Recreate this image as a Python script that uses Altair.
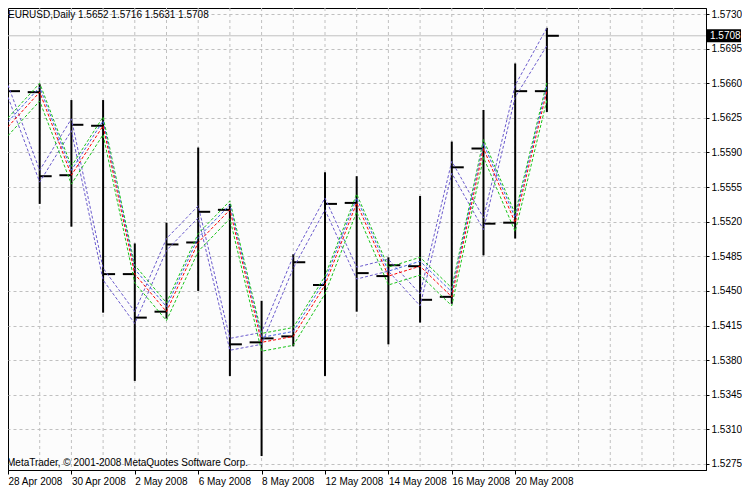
import altair as alt
import pandas as pd

# ---- data ----
dates = ["28 Apr 2008", "29 Apr 2008", "30 Apr 2008", "1 May 2008", "2 May 2008",
         "5 May 2008", "6 May 2008", "7 May 2008", "8 May 2008", "9 May 2008",
         "12 May 2008", "13 May 2008", "14 May 2008", "15 May 2008", "16 May 2008",
         "19 May 2008", "20 May 2008", "21 May 2008"]
opens = [1.5616, 1.5651, 1.5567, 1.5617, 1.5467, 1.5429, 1.5499, 1.5532, 1.5398,
         1.5404, 1.5456, 1.5539, 1.5465, 1.5475, 1.5444, 1.5594, 1.5519, 1.5652]
highs = [1.5693, 1.5659, 1.5643, 1.5643, 1.5498, 1.5519, 1.5595, 1.5538, 1.5440,
         1.5487, 1.5570, 1.5566, 1.5484, 1.5546, 1.5601, 1.5633, 1.5680, 1.5716]
lows = [1.5594, 1.5538, 1.5515, 1.5428, 1.5359, 1.5422, 1.5450, 1.5364, 1.5283,
        1.5394, 1.5364, 1.5429, 1.5396, 1.5418, 1.5437, 1.5486, 1.5503, 1.5631]
closes = [1.5652, 1.5566, 1.5618, 1.5467, 1.5423, 1.5497, 1.5530, 1.5396, 1.5402,
          1.5479, 1.5538, 1.5468, 1.5476, 1.5441, 1.5575, 1.5518, 1.5652, 1.5708]

purple_up = [1.5658, 1.5572, 1.5624, 1.5473, 1.5429, 1.5503, 1.5536, 1.5402, 1.5408,
             1.5485, 1.5544, 1.5474, 1.5482, 1.5447, 1.5581, 1.5524, 1.5658, 1.5716]
purple_dn = [1.5646, 1.5560, 1.5612, 1.5461, 1.5417, 1.5491, 1.5524, 1.5390, 1.5396,
             1.5473, 1.5532, 1.5462, 1.5470, 1.5435, 1.5569, 1.5512, 1.5646, 1.5698]
green_up = [1.5625, 1.5660, 1.5576, 1.5626, 1.5476, 1.5438, 1.5508, 1.5541, 1.5407,
            1.5413, 1.5465, 1.5548, 1.5474, 1.5484, 1.5453, 1.5603, 1.5528, 1.5661]
blue_mid = [1.5621, 1.5656, 1.5572, 1.5622, 1.5472, 1.5434, 1.5504, 1.5537, 1.5403,
            1.5409, 1.5461, 1.5544, 1.5470, 1.5480, 1.5449, 1.5599, 1.5524, 1.5657]
red_mid = [1.5616, 1.5651, 1.5567, 1.5617, 1.5467, 1.5429, 1.5499, 1.5532, 1.5398,
           1.5404, 1.5456, 1.5539, 1.5465, 1.5475, 1.5444, 1.5594, 1.5519, 1.5652]
green_dn = [1.5607, 1.5642, 1.5558, 1.5608, 1.5458, 1.5420, 1.5490, 1.5523, 1.5389,
            1.5395, 1.5447, 1.5530, 1.5456, 1.5466, 1.5435, 1.5585, 1.5510, 1.5643]

y_ticks = [1.5275, 1.5310, 1.5345, 1.5380, 1.5415, 1.5450, 1.5485, 1.5520,
           1.5555, 1.5590, 1.5625, 1.5660, 1.5695, 1.5730]
x_tick_idx = [0, 2, 4, 6, 8, 10, 12, 14, 16]
x_tick_labels = ["28 Apr 2008", "30 Apr 2008", "2 May 2008", "6 May 2008", "8 May 2008",
                 "12 May 2008", "14 May 2008", "16 May 2008", "20 May 2008"]
grid_idx = list(range(1, 22))

symbol = "EURUSD,Daily"
copyright_text = "MetaTrader, \u00a9 2001-2008 MetaQuotes Software Corp."

# ---- tables ----
n = len(dates)
TICK = 0.378
bars = pd.DataFrame({
    "i": list(range(n)), "date": dates, "o": opens, "h": highs, "l": lows, "c": closes,
})
bars["il"] = bars["i"] - TICK
bars["ir"] = bars["i"] + TICK

series = [("pu", purple_up), ("pd", purple_dn), ("gu", green_up),
          ("bm", blue_mid), ("rm", red_mid), ("gd", green_dn)]
colors = {"pu": "#6a5acd", "pd": "#6a5acd", "gu": "#19c419", "bm": "#4060e0",
          "rm": "#ff0000", "gd": "#19c419"}
long_rows = []
for name, vals in series:
    for i, v in enumerate(vals):
        long_rows.append({"i": i, "v": v, "s": name})
lines_df = pd.DataFrame(long_rows)

last = bars.iloc[-1]
header = f"{symbol}  {last.o:.4f} {last.h:.4f} {last.l:.4f} {last.c:.4f}"
price_df = pd.DataFrame({"p": [closes[-1]], "p0": [closes[-1] - 0.00066],
                         "p1": [closes[-1] + 0.00066], "t": [f"{closes[-1]:.4f}"]})
grid_df = pd.DataFrame({"g": grid_idx})

W, H = 698, 462
PAD_R, PAD_B = 36, 18
XMAX = 22.02
YMIN, YMAX = 1.52689, 1.57361
FONT = "Liberation Sans"

label_expr = "[" + ",".join(f"'{t}'" for t in x_tick_labels) + "][datum.value/2]"
xscale = alt.Scale(domain=[0, XMAX], nice=False, zero=False)
yscale = alt.Scale(domain=[YMIN, YMAX], nice=False, zero=False)

x_axis = alt.Axis(values=x_tick_idx, labelExpr=label_expr, grid=False, title=None,
                  labelAlign="left", labelPadding=2, tickSize=4, tickColor="black",
                  domainColor="black", labelColor="black", labelFont=FONT,
                  labelFontSize=10, labelFlush=False, labelOverlap=False,
                  labelBound=False)
y_axis = alt.Axis(values=y_ticks, format=".4f", orient="right", title=None,
                  grid=True, gridColor="#c0c0c0", gridDash=[3, 3], gridWidth=1,
                  tickSize=3, tickColor="black", domainColor="black",
                  labelColor="black", labelFont=FONT, labelFontSize=10,
                  labelPadding=2, labelFlush=False, labelOverlap=False,
                  labelBound=False)


def X(field):
    return alt.X(field, type="quantitative", scale=xscale, axis=x_axis)


def Y(field):
    return alt.Y(field, type="quantitative", scale=yscale, axis=y_axis)


base_bars = alt.Chart(bars)

grid_layer = alt.Chart(grid_df).mark_rule(color="#c0c0c0", strokeDash=[3, 3], strokeWidth=1).encode(
    x=X("g"),
)

price_line = alt.Chart(price_df).mark_rule(color="#c0c0c0", strokeWidth=1).encode(
    y=Y("p"),
)

hl = base_bars.mark_rule(color="black", strokeWidth=2).encode(
    x=X("i"), y=Y("l"), y2="h:Q",
)
open_tick = base_bars.mark_rule(color="black", strokeWidth=2).encode(
    x=X("il"), x2="i:Q", y=Y("o"),
)
close_tick = base_bars.mark_rule(color="black", strokeWidth=2).encode(
    x=X("i"), x2="ir:Q", y=Y("c"),
)

ind_lines = alt.Chart(lines_df).mark_line(strokeWidth=1, strokeDash=[3, 2]).encode(
    x=X("i"),
    y=Y("v"),
    detail="s:N",
    color=alt.Color("s:N", scale=alt.Scale(domain=list(colors.keys()),
                                           range=list(colors.values())), legend=None),
)

price_box = alt.Chart(price_df).mark_rect(color="black").encode(
    x=alt.value(W + 1), x2=alt.value(W + PAD_R - 1),
    y=Y("p0"), y2="p1:Q",
)
price_text = alt.Chart(price_df).mark_text(color="white", align="left", baseline="middle",
                                           font=FONT, fontSize=10).encode(
    x=alt.value(W + 4), y=Y("p"), text="t:N",
)

header_text = alt.Chart(pd.DataFrame({"t": [header]})).mark_text(
    align="left", baseline="middle", font=FONT, fontSize=10, color="black").encode(
    x=alt.value(0), y=alt.value(7), text="t:N")
copy_text = alt.Chart(pd.DataFrame({"t": [copyright_text]})).mark_text(
    align="left", baseline="middle", font=FONT, fontSize=10, color="black").encode(
    x=alt.value(-1), y=alt.value(H - 7), text="t:N")

chart = alt.layer(
    grid_layer, price_line, hl, open_tick, close_tick, ind_lines,
    price_box, price_text, header_text, copy_text,
).properties(
    width=W, height=H,
    autosize=alt.AutoSizeParams(type="none"),
    padding={"left": 0, "top": 0, "right": PAD_R, "bottom": PAD_B},
    background="white",
).configure_view(stroke="black", strokeWidth=1, fill="#fcfcfc")

chart.save("out.html", embed_options={"renderer": "svg", "actions": False})
